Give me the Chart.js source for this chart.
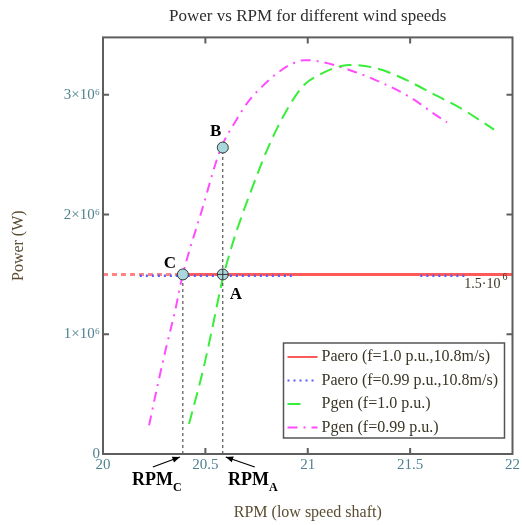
<!DOCTYPE html>
<html>
<head>
<meta charset="utf-8">
<script src="https://cdn.jsdelivr.net/npm/chart.js@4.4.0/dist/chart.umd.min.js"></script>
<style>
  html, body { margin: 0; background: #fff; }
  #wrap { width: 522px; height: 525px; }
</style>
</head>
<body>
<div id="wrap"><canvas id="chart" width="522" height="525"></canvas></div>
<script>
// Data (RPM on low speed shaft, power in W)
const rpmGen100 = [20.42, 20.49, 20.53, 20.59, 20.75, 20.85, 20.975, 21.06, 21.14, 21.2, 21.34, 21.48, 21.61, 21.76, 21.91];
const powGen100 = [0.25e6, 0.71e6, 1.02e6, 1.5e6, 2.32e6, 2.72e6, 3.07e6, 3.17e6, 3.23e6, 3.25e6, 3.22e6, 3.125e6, 3.01e6, 2.875e6, 2.71e6];

const rpmGen099 = [20.225, 20.27, 20.31, 20.35, 20.39, 20.48, 20.575, 20.644, 20.717, 20.79, 20.85, 20.912, 20.985, 21.07, 21.2, 21.35, 21.5, 21.61, 21.68];
const powGen099 = [0.24e6, 0.6e6, 0.9e6, 1.18e6, 1.5e6, 2.02e6, 2.55e6, 2.77e6, 2.96e6, 3.09e6, 3.18e6, 3.25e6, 3.29e6, 3.275e6, 3.21e6, 3.11e6, 2.98e6, 2.85e6, 2.77e6];

const rpmAero100 = [20.40, 22];
const powAero100 = [1.5e6, 1.5e6];

// blue dotted line is hidden under the red one in the middle
const rpmAero099 = [20.18, 20.94, 21.2, 21.55, 21.77];
const powAero099 = [1.49e6, 1.49e6, null, 1.49e6, 1.49e6];

const markerValue = 1.5e6;
const markerRpm = [20, 22];

// operating points C, A, B
const pointNames = ['C', 'A', 'B'];
const pointRpm = [20.39, 20.585, 20.585];
const pointPow = [1.5e6, 1.5e6, 2.56e6];

const xTicks = [20, 20.5, 21, 21.5, 22];
const yTicks = [0, 1e6, 2e6, 3e6];

const serif = '"Liberation Serif", "DejaVu Serif", serif';

function toXY(xs, ys){
  return xs.map((x, i) => ({ x: x, y: ys[i] }));
}

const datasets = [
  { label: '1.5e6 marker', data: toXY(markerRpm, [markerValue, markerValue]),
    borderColor: 'rgba(255,90,90,0.75)', borderWidth: 3, borderDash: [5, 4], pointRadius: 0, order: 5, legend: false },
  { label: 'Paero (f=1.0 p.u.,10.8m/s)', data: toXY(rpmAero100, powAero100),
    borderColor: '#ff5a5a', borderWidth: 3, pointRadius: 0, order: 4, legend: true },
  { label: 'Paero (f=0.99 p.u.,10.8m/s)', data: toXY(rpmAero099, powAero099),
    borderColor: '#5b5bff', borderWidth: 2.5, borderDash: [2, 4], pointRadius: 0, spanGaps: false, order: 3, legend: true },
  { label: 'Pgen (f=1.0 p.u.)', data: toXY(rpmGen100, powGen100),
    borderColor: '#38ee38', borderWidth: 2, borderDash: [13, 7], pointRadius: 0, cubicInterpolationMode: 'monotone', order: 3, legend: true },
  { label: 'Pgen (f=0.99 p.u.)', data: toXY(rpmGen099, powGen099),
    borderColor: '#ff4cff', borderWidth: 2, borderDash: [10, 6, 2, 6], pointRadius: 0, cubicInterpolationMode: 'monotone', order: 3, legend: true },
  // dashed drop lines RPM_C and RPM_A
  { label: 'RPM_C', data: toXY([pointRpm[0], pointRpm[0]], [0, pointPow[0]]),
    borderColor: '#333', borderWidth: 1, borderDash: [3, 3], pointRadius: 0, order: 2, legend: false },
  { label: 'RPM_A', data: toXY([pointRpm[2], pointRpm[2]], [0, pointPow[2]]),
    borderColor: '#333', borderWidth: 1, borderDash: [3, 3], pointRadius: 0, order: 2, legend: false },
  { label: 'points', data: toXY(pointRpm, pointPow), showLine: false,
    pointRadius: 5.5, pointBackgroundColor: '#a8d8dc', pointBorderColor: '#333', pointBorderWidth: 1, order: 0, legend: false }
];

// frame, inward ticks, legend and annotations
const extras = {
  id: 'extras',
  afterDraw(chart){
    const ctx = chart.ctx;
    const a = chart.chartArea;
    const xs = chart.scales.x, ys = chart.scales.y;
    ctx.save();

    // frame
    ctx.strokeStyle = '#5e5e5e';
    ctx.lineWidth = 2;
    ctx.strokeRect(a.left, a.top, a.right - a.left, a.bottom - a.top);
    xTicks.slice(1, -1).forEach(v => {
      const px = xs.getPixelForValue(v);
      ctx.beginPath();
      ctx.moveTo(px, a.bottom); ctx.lineTo(px, a.bottom - 6);
      ctx.moveTo(px, a.top); ctx.lineTo(px, a.top + 6);
      ctx.stroke();
    });
    yTicks.slice(1).forEach(v => {
      const py = ys.getPixelForValue(v);
      ctx.beginPath();
      ctx.moveTo(a.left, py); ctx.lineTo(a.left + 6, py);
      ctx.moveTo(a.right, py); ctx.lineTo(a.right - 6, py);
      ctx.stroke();
    });

    // crosshair on A
    const ax = xs.getPixelForValue(pointRpm[1]), ay = ys.getPixelForValue(pointPow[1]);
    ctx.lineWidth = 1;
    ctx.strokeStyle = '#333';
    ctx.beginPath();
    ctx.moveTo(ax - 5.5, ay); ctx.lineTo(ax + 5.5, ay);
    ctx.moveTo(ax, ay - 5.5); ctx.lineTo(ax, ay + 5.5);
    ctx.stroke();

    // point letters
    ctx.fillStyle = '#000';
    ctx.font = 'bold 17px ' + serif;
    ctx.textAlign = 'center';
    ctx.textBaseline = 'middle';
    const offs = { C: [-13, -11], A: [13, 20], B: [-7, -16] };
    pointNames.forEach((n, i) => {
      const px = xs.getPixelForValue(pointRpm[i]), py = ys.getPixelForValue(pointPow[i]);
      ctx.fillText(n, px + offs[n][0], py + offs[n][1]);
    });

    // marker label
    ctx.font = '14px ' + serif;
    ctx.fillStyle = '#3b3526';
    ctx.textAlign = 'right';
    ctx.textBaseline = 'alphabetic';
    const my = ys.getPixelForValue(markerValue);
    ctx.fillText('1.5·10', a.right - 12, my + 14);
    ctx.font = '10px ' + serif;
    ctx.fillText('6', a.right - 5, my + 6);

    // RPM_C / RPM_A under the axis
    const cx = xs.getPixelForValue(pointRpm[0]);
    const rx = xs.getPixelForValue(pointRpm[2]);
    ctx.strokeStyle = '#000';
    ctx.fillStyle = '#000';
    ctx.lineWidth = 1.3;
    function arrow(x0, y0, x1, y1){
      ctx.beginPath(); ctx.moveTo(x0, y0); ctx.lineTo(x1, y1); ctx.stroke();
      const ang = Math.atan2(y1 - y0, x1 - x0);
      ctx.beginPath();
      ctx.moveTo(x1, y1);
      ctx.lineTo(x1 - 8 * Math.cos(ang - 0.4), y1 - 8 * Math.sin(ang - 0.4));
      ctx.lineTo(x1 - 8 * Math.cos(ang + 0.4), y1 - 8 * Math.sin(ang + 0.4));
      ctx.closePath(); ctx.fill();
    }
    arrow(cx - 30, a.bottom + 13, cx - 3, a.bottom + 3);
    arrow(rx + 32, a.bottom + 13, rx + 3, a.bottom + 3);

    function rpmLabel(x, y, sub){
      ctx.font = 'bold 18px ' + serif;
      ctx.textAlign = 'left';
      ctx.fillText('RPM', x, y);
      const w = ctx.measureText('RPM').width;
      ctx.font = 'bold 12px ' + serif;
      ctx.fillText(sub, x + w, y + 6);
    }
    rpmLabel(132, a.bottom + 31, 'C');
    rpmLabel(228, a.bottom + 31, 'A');

    // legend box
    const lw = 221, lh = 95;
    const lx = a.right - 229, ly = a.bottom - 111;
    ctx.fillStyle = '#fff';
    ctx.fillRect(lx, ly, lw, lh);
    ctx.strokeStyle = '#555';
    ctx.lineWidth = 1.5;
    ctx.strokeRect(lx, ly, lw, lh);
    const items = chart.data.datasets.filter(d => d.legend);
    items.forEach((d, i) => {
      const y = ly + 14 + i * 23.5;
      ctx.strokeStyle = d.borderColor;
      ctx.lineWidth = 2;
      ctx.setLineDash(d.borderDash || []);
      ctx.beginPath();
      ctx.moveTo(lx + 4, y);
      ctx.lineTo(lx + (i === 2 ? 24 : 34), y);
      ctx.stroke();
      ctx.setLineDash([]);
      ctx.fillStyle = '#3b3526';
      ctx.font = '16px ' + serif;
      ctx.textAlign = 'left';
      ctx.textBaseline = 'middle';
      ctx.fillText(d.label, lx + 38, y);
    });
    ctx.restore();
  }
};

new Chart(document.getElementById('chart'), {
  type: 'line',
  data: { datasets: datasets },
  options: {
    responsive: false,
    animation: false,
    devicePixelRatio: 1,
    layout: { padding: { left: 0, right: 9, top: 0, bottom: 0 } },
    plugins: {
      legend: { display: false },
      tooltip: { enabled: false },
      title: {
        display: true,
        fullSize: false,
        text: 'Power vs RPM for different wind speeds',
        color: '#2e2e2e',
        font: { family: serif, size: 17, weight: 'normal' },
        padding: { top: 6, bottom: 11 }
      }
    },
    scales: {
      x: {
        type: 'linear',
        min: 20, max: 22,
        grid: { display: false, drawTicks: false },
        border: { display: false },
        afterFit(scale){ scale.height = 71; },
        afterBuildTicks(scale){ scale.ticks = xTicks.map(v => ({ value: v })); },
        ticks: {
          padding: 2,
          color: '#4f8391',
          font: { family: serif, size: 15 },
          callback: v => String(v)
        },
        title: {
          display: true,
          text: 'RPM (low speed shaft)',
          color: '#5b4d32',
          font: { family: serif, size: 16 },
          padding: { top: 4, bottom: 3 }
        }
      },
      y: {
        min: 0, max: 3.48e6,
        grid: { display: false, drawTicks: false },
        border: { display: false },
        afterFit(scale){ scale.width = 103; },
        afterBuildTicks(scale){ scale.ticks = yTicks.map(v => ({ value: v })); },
        ticks: {
          padding: 3,
          color: '#4f8391',
          font: { family: serif, size: 15 },
          callback: v => v === 0 ? '0' : (v / 1e6) + '×10⁶'
        },
        title: {
          display: true,
          text: 'Power (W)',
          color: '#5b4d32',
          font: { family: serif, size: 16 },
          padding: { top: 9, bottom: 0 }
        }
      }
    }
  },
  plugins: [extras]
});
</script>
</body>
</html>
